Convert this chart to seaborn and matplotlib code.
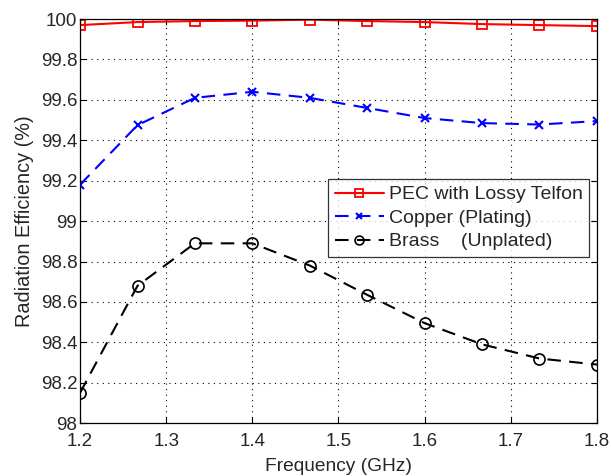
import matplotlib
matplotlib.use("Agg")
import matplotlib.pyplot as plt
import seaborn as sns
import pandas as pd

freq = [1.2, 1.2667, 1.3333, 1.4, 1.4667, 1.5333, 1.6, 1.6667, 1.7333, 1.8]
pec = [99.97, 99.985, 99.99, 99.992, 99.997, 99.99, 99.985, 99.975, 99.97, 99.965]
copper = [99.18, 99.475, 99.61, 99.64, 99.61, 99.56, 99.51, 99.485, 99.478, 99.495]
brass = [98.15, 98.68, 98.89, 98.89, 98.78, 98.635, 98.495, 98.39, 98.32, 98.29]
labels = ["PEC with Lossy Telfon", "Copper (Plating)", "Brass    (Unplated)"]
xticks = [1.2, 1.3, 1.4, 1.5, 1.6, 1.7, 1.8]
yticks = [98, 98.2, 98.4, 98.6, 98.8, 99, 99.2, 99.4, 99.6, 99.8, 100]

sns.set_style("white")
plt.rcParams['font.family'] = ['Liberation Sans', 'DejaVu Sans']
plt.rcParams['font.size'] = 13.5

fig = plt.figure(figsize=(6.11, 4.76), dpi=100)
ax = fig.add_axes([0.131, 0.111, 0.846, 0.849])

df = pd.DataFrame({"f": freq, "pec": pec, "cu": copper, "br": brass})
sns.lineplot(data=df, x="f", y="pec", ax=ax, color="red", lw=1.5, marker="s",
             markersize=7, markerfacecolor="none", markeredgecolor="red",
             markeredgewidth=1.3, label=labels[0])
sns.lineplot(data=df, x="f", y="cu", ax=ax, color="blue", lw=1.5, marker="x",
             markersize=6, markeredgecolor="blue", markeredgewidth=1.5,
             dashes=(6.5, 4), label=labels[1])
sns.lineplot(data=df, x="f", y="br", ax=ax, color="black", lw=1.5, marker="o",
             markersize=8, markerfacecolor="none", markeredgecolor="black",
             markeredgewidth=1.2, dashes=(6.5, 4), label=labels[2])

ax.set_xlim(1.2, 1.8)
ax.set_ylim(98, 100)
ax.set_xticks(xticks)
ax.set_xticklabels([f"{t:g}" for t in xticks])
ax.set_yticks(yticks)
ax.set_yticklabels([f"{t:g}" for t in yticks])
ax.grid(True, color="black", linestyle=(0, (1, 4)), linewidth=0.8)
ax.tick_params(direction="in", length=4, color="black", labelsize=13.5,
               top=True, right=True, bottom=True, left=True)
ax.tick_params(axis="x", pad=7)
ax.tick_params(axis="y", pad=2)
for s in ax.spines.values():
    s.set_color("black")
    s.set_linewidth(0.9)
ax.set_xlabel("Frequency (GHz)", fontsize=13.8, labelpad=6)
ax.set_ylabel("Radiation Efficiency (%)", fontsize=14.3, labelpad=5)

leg = ax.legend(loc="upper right", bbox_to_anchor=(0.985, 0.604), fontsize=14,
                frameon=True, fancybox=False, edgecolor="black",
                borderaxespad=0, handlelength=2.5, handletextpad=0.25,
                labelspacing=0.3, borderpad=0.35, markerscale=0.8)
leg.get_frame().set_linewidth(0.9)

fig.savefig("out.png", dpi=100)
